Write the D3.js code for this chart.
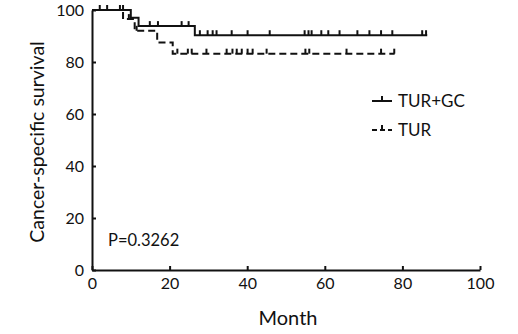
<!DOCTYPE html>
<html>
  <head>
    <title> Cancer-specific survival </title>
    <script src="https://cdn.jsdelivr.net/npm/d3@7"></script>
    <style>
      body { margin: 0; background: white; }
      text { font-family: Lato, "Open Sans", sans-serif; fill: #111; }
    </style>
  </head>
  <body>
    <script>
      // Kaplan-Meier steps
      var groups = ['TUR+GC', 'TUR'];

      var gcDropMonths = [10, 12, 26.5];
      var gcSurvival = [100, 97, 93.8, 90.3];
      var gcLastMonth = 86.4;
      var gcCensored = [2, 3.9, 7.2, 8, 14.9, 17, 23.1, 24.9, 27.8, 29.8, 31.1, 32.1, 36, 40.1, 45.8,
                        54.8, 55.8, 56.6, 59.1, 60.9, 63.8, 68.4, 71.5, 74.5, 77.4, 85.1, 86.1];

      var turDropMonths = [8, 11, 16.8, 20.8];
      var turSurvival = [100, 96.5, 92, 87.5, 83.2];
      var turLastMonth = 78;
      var turCensored = [9.5, 11.5, 22, 24.7, 25.7, 29.5, 34.7, 36.2, 37.3, 38.6, 40.1, 41.4, 45,
                         55, 56, 65.6, 74.5, 77.9];

      var xTicks = [0, 20, 40, 60, 80, 100];
      var yTicks = [0, 20, 40, 60, 80, 100];
      var pLabel = 'P=0.3262';

      var width = 518, height = 334;
      var svg = d3.select('body').append('svg').attr('width', width).attr('height', height);

      var x = d3.scaleLinear().domain([0, 100]).range([92, 480]);
      var y = d3.scaleLinear().domain([0, 100]).range([270, 10]);

      function stepPoints(drops, surv, last) {
        var pts = [[0, surv[0]]];
        drops.forEach(function(m, i){ pts.push([m, surv[i + 1]]); });
        pts.push([last, surv[surv.length - 1]]);
        return pts;
      }
      function survAt(drops, surv, m) {
        var k = 0;
        drops.forEach(function(d){ if (m >= d) k++; });
        return surv[k];
      }

      var line = d3.line().x(function(d){ return x(d[0]); }).y(function(d){ return y(d[1]); })
        .curve(d3.curveStepAfter);

      var series = [
        {name: groups[0], pts: stepPoints(gcDropMonths, gcSurvival, gcLastMonth), dash: null,
         cens: gcCensored.map(function(m){ return [m, survAt(gcDropMonths, gcSurvival, m)]; })},
        {name: groups[1], pts: stepPoints(turDropMonths, turSurvival, turLastMonth), dash: '7,4',
         cens: turCensored.map(function(m){ return [m, survAt(turDropMonths, turSurvival, m)]; })}
      ];

      // axes
      var xAxis = d3.axisBottom(x).tickValues(xTicks).tickSizeInner(-4).tickSizeOuter(0).tickPadding(8);
      var yAxis = d3.axisLeft(y).tickValues(yTicks).tickSizeInner(-4).tickSizeOuter(0).tickPadding(8);

      var gx = svg.append('g').attr('transform', 'translate(0,270)').call(xAxis);
      var gy = svg.append('g').attr('transform', 'translate(92,0)').call(yAxis);
      [gx, gy].forEach(function(g){
        g.select('.domain').attr('stroke', '#111').attr('stroke-width', 2);
        g.selectAll('.tick line').attr('stroke', '#111').attr('stroke-width', 2);
        g.selectAll('.tick text').attr('font-size', 16).attr('font-family', 'Lato, sans-serif').attr('fill', '#111');
      });

      // curves
      series.forEach(function(s){
        svg.append('path').datum(s.pts).attr('d', line)
          .attr('fill', 'none').attr('stroke', '#111').attr('stroke-width', 2)
          .attr('stroke-dasharray', s.dash);
        svg.selectAll(null).data(s.cens).enter().append('line')
          .attr('x1', function(d){ return x(d[0]); }).attr('x2', function(d){ return x(d[0]); })
          .attr('y1', function(d){ return y(d[1]); }).attr('y2', function(d){ return y(d[1]) - 5; })
          .attr('stroke', '#111').attr('stroke-width', 2);
      });

      // legend
      var legend = svg.append('g');
      series.forEach(function(s, i){
        var ly = 101 + i * 29;
        legend.append('line').attr('x1', 372).attr('x2', 392).attr('y1', ly).attr('y2', ly)
          .attr('stroke', '#111').attr('stroke-width', 2).attr('stroke-dasharray', s.dash ? '5,3' : null);
        legend.append('line').attr('x1', 382).attr('x2', 382).attr('y1', ly).attr('y2', ly - 5)
          .attr('stroke', '#111').attr('stroke-width', 2);
        legend.append('text').attr('x', 398).attr('y', ly + 6).attr('font-size', 17).text(s.name);
      });

      svg.append('text').attr('x', 108).attr('y', 246).attr('font-size', 16.5).text(pLabel);

      svg.append('text').attr('x', 288).attr('y', 325).attr('text-anchor', 'middle')
        .attr('font-size', 20).text('Month');
      svg.append('text').attr('transform', 'translate(44,142) rotate(-90)').attr('text-anchor', 'middle')
        .attr('font-size', 19.5).text('Cancer-specific survival');
    </script>
  </body>
</html>
